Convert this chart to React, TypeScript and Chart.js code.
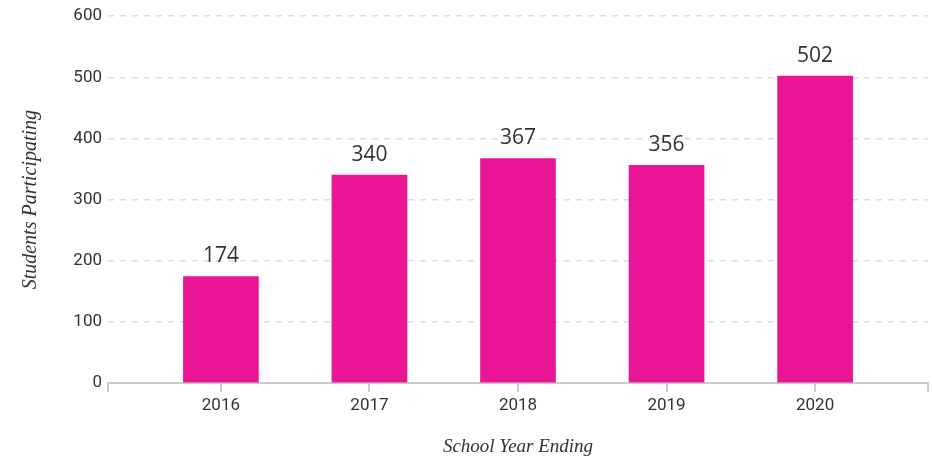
import React, { useEffect, useRef } from "react";
import { Chart, registerables } from "chart.js";

Chart.register(...registerables);

const years = [2016, 2017, 2018, 2019, 2020];
const students = [174, 340, 367, 356, 502];
const yTicks = [0, 100, 200, 300, 400, 500, 600];

const BAR = "#e91594";
const TEXT = "#333333";
const TICK_FONT = "'Liberation Sans Narrow', Roboto, sans-serif";
const TITLE_FONT = "'Liberation Serif', serif";

const valueLabels = {
  id: "valueLabels",
  afterDatasetsDraw(chart: any) {
    const ctx = chart.ctx;
    const meta = chart.getDatasetMeta(0);
    ctx.save();
    ctx.font = "21px 'Open Sans', sans-serif";
    ctx.fillStyle = TEXT;
    ctx.textAlign = "center";
    ctx.textBaseline = "bottom";
    meta.data.forEach((bar: any, i: number) => {
      ctx.fillText(String(students[i]), bar.x, bar.y - 10);
    });
    ctx.restore();
  },
};

export default function App() {
  const ref = useRef<HTMLCanvasElement>(null);
  useEffect(() => {
    if (!ref.current) return;
    const xMin = years[0] - 0.76;
    const xMax = years[years.length - 1] + 0.76;
    const chart = new Chart(ref.current, {
      type: "bar",
      data: {
        datasets: [
          {
            data: years.map((y, i) => ({ x: y, y: students[i] })),
            backgroundColor: BAR,
            barThickness: 75,
          },
        ],
      },
      options: {
        animation: false,
        responsive: false,
        layout: { padding: { top: 8, right: 3, left: 0, bottom: 0 } },
        plugins: { legend: { display: false }, tooltip: { enabled: false } },
        scales: {
          x: {
            type: "linear",
            offset: false,
            min: xMin,
            max: xMax,
            afterBuildTicks: (scale: any) => {
              scale.ticks = [xMin, ...years, xMax].map((v) => ({ value: v }));
            },
            afterFit: (scale: any) => {
              scale.height = 75;
            },
            ticks: {
              autoSkip: false,
              maxRotation: 0,
              color: TEXT,
              font: { family: TICK_FONT, size: 17 },
              padding: 4,
              callback: (v: any) => (Number.isInteger(v) ? String(v) : ""),
            },
            grid: {
              offset: false,
              drawOnChartArea: false,
              drawTicks: true,
              tickLength: 9,
              color: "#cccccc",
              lineWidth: 2,
            },
            border: { display: true, color: "#cccccc", width: 2 },
            title: {
              display: true,
              text: "School Year Ending",
              color: TEXT,
              font: { family: TITLE_FONT, size: 19, style: "italic" },
              padding: { top: 18, bottom: 0 },
            },
          },
          y: {
            min: 0,
            max: 600,
            afterBuildTicks: (scale: any) => {
              scale.ticks = yTicks.map((v) => ({ value: v }));
            },
            afterFit: (scale: any) => {
              scale.width = 108;
            },
            ticks: {
              color: TEXT,
              font: { family: TICK_FONT, size: 17 },
              padding: 6,
            },
            grid: {
              drawTicks: false,
              color: (c: any) => (c.tick && c.tick.value === 0 ? "rgba(0,0,0,0)" : "#dddddd"),
              lineWidth: 1.5,
            },
            border: { display: false, dash: [6, 6] },
            title: {
              display: true,
              text: "Students Participating",
              color: TEXT,
              font: { family: TITLE_FONT, size: 20, style: "italic" },
              padding: { top: 19, bottom: 20 },
            },
          },
        },
      },
      plugins: [valueLabels],
    });
    return () => chart.destroy();
  }, []);
  return (
    <div style={{ position: "absolute", left: 0, top: 0, width: 932, height: 458 }}>
      <canvas ref={ref} width={932} height={458} />
    </div>
  );
}
